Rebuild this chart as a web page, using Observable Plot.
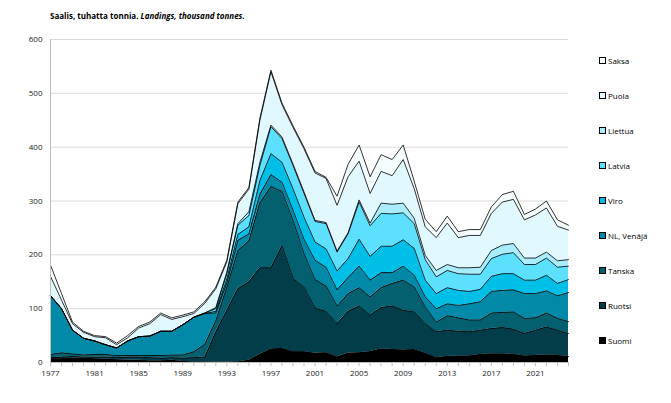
<!DOCTYPE html>
<html><head><meta charset="utf-8">
<script src="https://cdn.jsdelivr.net/npm/d3@7"></script>
<script src="https://cdn.jsdelivr.net/npm/@observablehq/plot@0.6"></script>
<style>
body{margin:0;background:#fff;font-family:"Open Sans",sans-serif;}
#wrap{position:relative;width:671px;height:403px;overflow:hidden;}
#chart{position:absolute;left:0;top:0;}
#title{position:absolute;left:50px;top:10px;font-size:8px;font-weight:bold;color:#000;white-space:nowrap;z-index:2;}
.item{position:absolute;left:599px;height:10px;display:flex;align-items:center;font-size:8px;white-space:nowrap;color:#000;z-index:2;}
.sw{width:5px;height:5px;border:0.8px solid #000;margin-right:2px;flex:none;}
</style></head><body>
<div id="wrap"><div id="chart"></div><div id="title">Saalis, tuhatta tonnia. <i>Landings, thousand tonnes.</i></div></div>
<script>
const years = [1977,1978,1979,1980,1981,1982,1983,1984,1985,1986,1987,1988,1989,1990,1991,1992,1993,1994,1995,1996,1997,1998,1999,2000,2001,2002,2003,2004,2005,2006,2007,2008,2009,2010,2011,2012,2013,2014,2015,2016,2017,2018,2019,2020,2021,2022,2023,2024];
const series = ["Suomi","Ruotsi","Tanska","NL, Venäjä","Viro","Latvia","Liettua","Puola","Saksa"];
const colors = ["#000000","#033d49","#04606f","#0289a8","#00bfe7","#5de0fd","#a9ecfb","#e1f8fe","#f6fdff"];

const suomi   = [7,7,8,8,7,6,5,4,4,3,3,4,2,1,1,0.5,0.5,1,4,15,25,26,20,20,17,18,10,17,18,20,25,24,23,24,17,9,11,12,12,15,16,16,15,12,13,14,13,11];
const ruotsi  = [2,3,3,2,3,4,4,6,6,6,5,5,6,8,9,56.5,96.5,136,146,161,151,191,136,120,84,77,62,78,87,68,77,81,74,70,55,48,49,46,45,45,47,49,47,42,47,52,47,43];
const tanska  = [6,8,5,4,5,5,4,3,3,4,5,5,6,11,24,21,43,71,76,121,151,101,108,62,53,47,33,33,34,34,37,42,56,46,31,18,27,25,22,19,29,28,32,28,23,26,22,22];
const nl      = [109,82,44,31,25,18,14,27,35,36,45,44,56,64,57,14,8,19,13,16,22,17,19,27,36,35,30,30,40,31,28,20,26,22,19,25,22,23,30,34,40,41,41,46,45,41,42,54];
const viro    = [0,0,0,0,0,0,0,0,0,0,0,0,0,0,0,3,7,11,13,25,39,37,40,41,34,34,35,35,50,44,49,49,49,50,31,28,30,28,23,23,28,31,30,25,25,29,23,24];
const latvia  = [0,0,0,0,0,0,0,0,0,0,0,0,0,0,1,5,10,17,21,28,50,44,43,44,38,47,35,46,69,57,61,60,50,46,38,31,32,31,32,28,33,36,39,29,29,32,30,25];
const liettua = [0,0,0,0,0,0,0,0,0,0,0,0,0,0,0,2,3,3,7,6,3,3,3,3,2,2,2,2,4,5,19,18,18,10,8,12,11,11,12,13,15,17,17,12,12,11,12,12];
const puola   = [36,16,12,11,8,13,6,6,16,23,31,22,15,7,18,35,19,37,42,78,99,60,68,80,88,82,85,104,72,55,59,53,81,55,53,61,77,56,60,59,69,80,82,71,80,82,64,55];
const saksa   = [21,12,3,2,2,2,3,4,3,3,3,3,3,3,3,3,3,3,3,4,3,3,3,3,3,2,17,23,30,31,31,30,27,14,14,11,13,11,11,11,12,14,15,10,11,13,12,9];

const yTicks = [0,100,200,300,400,500,600];
const labelYears = [1977,1981,1985,1989,1993,1997,2001,2005,2009,2013,2017,2021];

const values = [suomi,ruotsi,tanska,nl,viro,latvia,liettua,puola,saksa];
const data = [];
series.forEach((s, k) => years.forEach((yr, i) => data.push({year: yr, series: s, value: values[k][i]})));

const chart = Plot.plot({
  width: 671, height: 403,
  marginLeft: 50, marginRight: 103, marginTop: 39, marginBottom: 41,
  style: {fontFamily: "Open Sans", fontSize: "8px", background: "white", color: "#222"},
  x: {domain: [1977, 2024], label: null},
  y: {domain: [0, 600], label: null},
  color: {domain: series, range: colors},
  marks: [
    Plot.gridY(yTicks.filter(d => d > 0), {stroke: "#d9d9d9", strokeOpacity: 1}),
    Plot.areaY(data, {x: "year", y: "value", z: "series", fill: "series", order: series}),
    Plot.lineY(data, Plot.stackY2({x: "year", y: "value", z: "series", order: series, stroke: "#000", strokeWidth: 0.8})),
    Plot.ruleX([1977], {stroke: "#bfbfbf"}),
    Plot.ruleY([0], {stroke: "#bfbfbf"}),
    Plot.axisY(yTicks, {tickSize: 0, tickPadding: 8, fill: "#222"}),
    Plot.axisX(years, {tickSize: 4, tickPadding: 4, stroke: "#bfbfbf", fill: "#222", tickFormat: d => labelYears.includes(d) ? String(d) : ""})
  ]
});
document.getElementById("chart").appendChild(chart);

const wrap = document.getElementById("wrap");
const legendOrder = series.slice().reverse();
legendOrder.forEach((s, k) => {
  const it = document.createElement("div");
  it.className = "item";
  it.style.top = (55 + 35.1 * k) + "px";
  const sw = document.createElement("span");
  sw.className = "sw";
  sw.style.background = colors[series.indexOf(s)];
  const tx = document.createElement("span");
  tx.textContent = s;
  it.appendChild(sw); it.appendChild(tx);
  wrap.appendChild(it);
});
</script>
</body></html>
